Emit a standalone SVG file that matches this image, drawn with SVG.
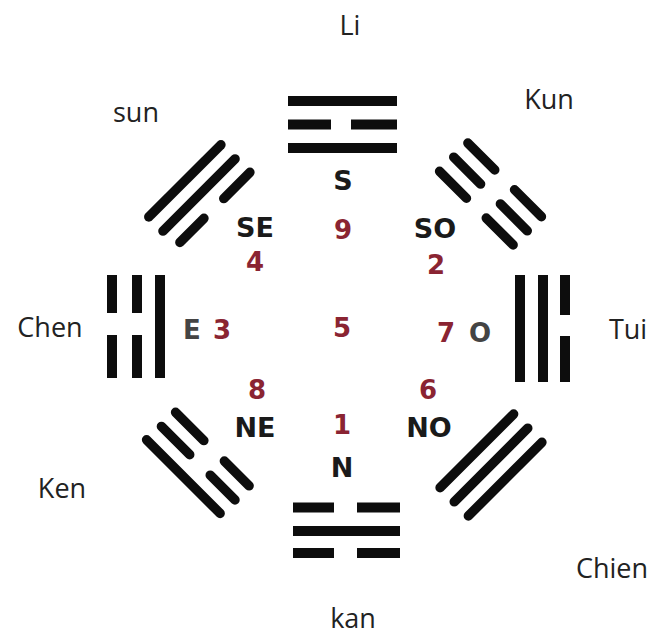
<svg xmlns="http://www.w3.org/2000/svg" width="655" height="636" viewBox="0 0 655 636">
<style>
.bar{stroke:#0d0d0d;stroke-width:10;fill:none}
.diag{stroke:#0d0d0d;stroke-width:9.5;stroke-linecap:round;fill:none}
.lbl{font-family:"Open Sans","DejaVu Sans",sans-serif;font-size:27px;fill:#222;text-anchor:middle}
.dir{font-family:"DejaVu Sans",sans-serif;font-weight:bold;font-size:27px;fill:#1a1a1a;text-anchor:middle}
.dir2{font-family:"DejaVu Sans",sans-serif;font-weight:bold;font-size:26px;fill:#444;text-anchor:middle}
.num{font-family:"DejaVu Sans",sans-serif;font-weight:bold;font-size:26px;fill:#8a2432;text-anchor:middle}
</style>
<rect width="655" height="636" fill="#ffffff"/>

<g id="li">
  <line class="bar" x1="288" y1="101" x2="397" y2="101"/>
  <line class="bar" x1="288" y1="124.5" x2="331" y2="124.5"/>
  <line class="bar" x1="351" y1="124.5" x2="397" y2="124.5"/>
  <line class="bar" x1="288" y1="148" x2="397" y2="148"/>
  <text class="lbl" x="350" y="35">Li</text>
</g>

<g id="kun">
  <g transform="translate(490.5,194) rotate(45)">
    <line class="diag" x1="-52" y1="-20" x2="-14" y2="-20"/>
    <line class="diag" x1="14" y1="-20" x2="52" y2="-20"/>
    <line class="diag" x1="-52" y1="0" x2="-14" y2="0"/>
    <line class="diag" x1="14" y1="0" x2="52" y2="0"/>
    <line class="diag" x1="-52" y1="20" x2="-14" y2="20"/>
    <line class="diag" x1="14" y1="20" x2="52" y2="20"/>
  </g>
  <text class="lbl" x="549" y="109">Kun</text>
</g>

<g id="tui">
  <line class="bar" x1="520" y1="275" x2="520" y2="382"/>
  <line class="bar" x1="543" y1="275" x2="543" y2="382"/>
  <line class="bar" x1="565" y1="275" x2="565" y2="315"/>
  <line class="bar" x1="565" y1="336" x2="565" y2="382"/>
  <text class="lbl" x="628" y="339">Tui</text>
</g>

<g id="chien">
  <g transform="translate(491,465) rotate(-45)">
    <line class="diag" x1="-52" y1="-20" x2="52" y2="-20"/>
    <line class="diag" x1="-52" y1="0" x2="52" y2="0"/>
    <line class="diag" x1="-52" y1="20" x2="52" y2="20"/>
  </g>
  <text class="lbl" x="612" y="578">Chien</text>
</g>

<g id="kan">
  <line class="bar" x1="293" y1="507.5" x2="334" y2="507.5"/>
  <line class="bar" x1="357" y1="507.5" x2="400" y2="507.5"/>
  <line class="bar" x1="293" y1="531" x2="400" y2="531"/>
  <line class="bar" x1="293" y1="553" x2="334" y2="553"/>
  <line class="bar" x1="357" y1="553" x2="400" y2="553"/>
  <text class="lbl" x="353" y="628">kan</text>
</g>

<g id="ken">
  <g transform="translate(197.5,462.5) rotate(45)">
    <line class="diag" x1="-52" y1="20" x2="52" y2="20"/>
    <line class="diag" x1="-51" y1="0" x2="-11" y2="0"/>
    <line class="diag" x1="18" y1="0" x2="53" y2="0"/>
    <line class="diag" x1="-51" y1="-20" x2="-11" y2="-20"/>
    <line class="diag" x1="18" y1="-20" x2="53" y2="-20"/>
  </g>
  <text class="lbl" x="62" y="498">Ken</text>
</g>

<g id="chen">
  <line class="bar" x1="112" y1="275" x2="112" y2="313"/>
  <line class="bar" x1="112" y1="335" x2="112" y2="378"/>
  <line class="bar" x1="137" y1="275" x2="137" y2="313"/>
  <line class="bar" x1="137" y1="335" x2="137" y2="378"/>
  <line class="bar" x1="160" y1="275" x2="160" y2="378"/>
  <text class="lbl" x="50" y="337">Chen</text>
</g>

<g id="sun">
  <g transform="translate(199,195) rotate(-45)">
    <line class="diag" x1="-51" y1="-20" x2="51" y2="-20"/>
    <line class="diag" x1="-51" y1="0" x2="51" y2="0"/>
    <line class="diag" x1="-47" y1="20" x2="-13" y2="20"/>
    <line class="diag" x1="15" y1="20" x2="52" y2="20"/>
  </g>
  <text class="lbl" x="136" y="122">sun</text>
</g>

<g id="center">
  <text class="dir" x="343" y="190">S</text>
  <text class="dir" x="255" y="237">SE</text>
  <text class="num" x="343" y="239">9</text>
  <text class="dir" x="435" y="238">SO</text>
  <text class="num" x="255" y="271">4</text>
  <text class="num" x="436" y="274">2</text>
  <text class="dir2" x="192" y="339">E</text>
  <text class="num" x="222" y="339">3</text>
  <text class="num" x="342" y="337">5</text>
  <text class="num" x="446" y="342">7</text>
  <text class="dir2" x="480" y="342">O</text>
  <text class="num" x="257" y="399">8</text>
  <text class="num" x="428" y="399">6</text>
  <text class="dir" x="255" y="437">NE</text>
  <text class="num" x="342" y="434">1</text>
  <text class="dir" x="429" y="437">NO</text>
  <text class="dir" x="342" y="477">N</text>
</g>
</svg>
